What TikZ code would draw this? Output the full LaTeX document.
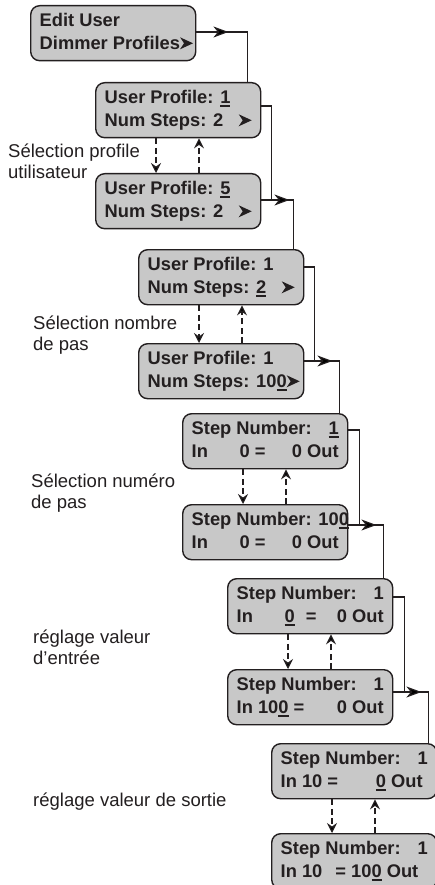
\documentclass[tikz,border=0pt]{standalone}
\usepackage{fontspec}
\setmainfont{Liberation Sans}
\usetikzlibrary{arrows.meta,calc,decorations.markings}
\definecolor{ink}{HTML}{231F20}
\definecolor{boxfill}{HTML}{C8C8C8}
\newsavebox\udbox
\newcommand\udig[1]{\sbox\udbox{#1}\rlap{\rule[-4pt]{\wd\udbox}{2.4pt}}\usebox\udbox}
\newcommand\tip{\tikz[baseline=0pt]\fill[ink,sharp corners] (0pt,0pt) -- (13pt,6pt) -- (0pt,12pt) -- (4pt,6pt) -- cycle;}
\newcommand\rows[2]{\vbox{\hbox to 147pt{\strut#1\hss}\hbox to 147pt{\strut#2\hss}}}
\newcommand\twolines[2]{\vbox{\hbox{\strut#1}\hbox{\strut#2}}}
\begin{document}
\begin{tikzpicture}[x=1pt,y=-1pt,
  box/.style={draw=ink,line width=1.4pt,fill=boxfill,rounded corners=9pt,
    minimum width=165pt,minimum height=55pt,inner xsep=9pt,inner ysep=0pt,
    anchor=north west,font=\bfseries\fontsize{18.3}{23}\selectfont,text=ink},
  lbl/.style={inner sep=0pt,anchor=north west,font=\fontsize{18.5}{21}\selectfont,text=ink},
  wire/.style={draw=ink,line width=1.2pt},
  conn/.style={wire,postaction={decorate},decoration={markings,
    mark=at position #1 with {\arrow{Stealth[length=15pt,width=11pt,inset=4.5pt]}}}},
  conn/.default=28pt,
  dashar/.style={draw=ink,line width=1.2pt,dash pattern=on 6pt off 3.5pt,
    -{Stealth[length=10pt,width=10pt,inset=3.5pt]}}]
\useasboundingbox (0,0) rectangle (435,885);
\fill[white] (0,0) rectangle (435,885);

\node[box] (B1) at (30,5) {\rows{Edit User}{Dimmer Profiles\tip}};
\node[box] (B2) at (95,82) {\rows{User Profile: \udig{1}}{Num Steps: 2\hfill\tip}};
\node[box] (B3) at (95,173) {\rows{User Profile: \udig{5}}{Num Steps: 2\hfill\tip}};
\node[box] (B4) at (138,249) {\rows{User Profile: 1}{Num Steps: \udig{2}\hfill\tip}};
\node[box] (B5) at (138,343) {\rows{User Profile: 1}{Num Steps: 10\udig{0}\hfill\tip}};
\node[box] (B6) at (182,413) {\rows{Step Number:\hfill\udig{1}}{\makebox[48pt][l]{In}0 =\hfill 0 Out}};
\node[box] (B7) at (182,504) {\rows{Step Number: 10\udig{0}}{\makebox[48pt][l]{In}0 =\hfill 0 Out}};
\node[box] (B8) at (227,578) {\rows{Step Number:\hfill 1}{\makebox[48pt][l]{In}\udig{0}\hspace{11pt}=\hfill 0 Out}};
\node[box] (B9) at (227,669) {\rows{Step Number:\hfill 1}{In 10\udig{0} =\hfill 0 Out}};
\node[box] (B10) at (271,743) {\rows{Step Number:\hfill 1}{In 10 =\hfill\udig{0} Out\hspace{5pt}}};
\node[box] (B11) at (271,833) {\rows{Step Number:\hfill 1}{In 10\hspace{13pt}= 10\udig{0} Out\hfill}};

\node[lbl] (L1) at (8,143) {\twolines{Sélection profile}{utilisateur}};
\node[lbl] (L2) at (33,315) {\twolines{Sélection nombre}{de pas}};
\node[lbl] (L3) at (31,473) {\twolines{Sélection numéro}{de pas}};
\node[lbl] (L4) at (33,629) {\twolines{réglage valeur}{d’entrée}};
\node[lbl,anchor=base west] (L5) at (33,806) {réglage valeur de sortie};

\draw[conn=32pt] ($(B1.north east)+(0,27)$) -| ($(B2.north east)+(-14,0)$);
\draw[wire] ($(B2.north east)+(0,24)$) -| ($(B3.north east)+(10,27)$);
\draw[conn] ($(B3.north east)+(0,27)$) -| ($(B4.north east)+(-11,0)$);
\draw[wire] ($(B4.north east)+(0,18)$) -| ($(B5.north east)+(10,18)$);
\draw[conn] ($(B5.north east)+(0,18)$) -| ($(B6.north east)+(-9,0)$);
\draw[wire] ($(B6.north east)+(0,17)$) -| ($(B7.north east)+(11,21)$);
\draw[conn] ($(B7.north east)+(0,21)$) -| ($(B8.north east)+(-10,0)$);
\draw[wire] ($(B8.north east)+(0,19)$) -| ($(B9.north east)+(11,23)$);
\draw[conn] ($(B9.north east)+(0,23)$) -| ($(B10.north east)+(-9,0)$);

\foreach \a/\b in {B2/B3,B4/B5,B6/B7,B8/B9,B10/B11} {
  \draw[dashar] ($(\a.south west)+(61,0)$) -- ($(\b.north west)+(61,0)$);
  \draw[dashar] ($(\b.north west)+(104,0)$) -- ($(\a.south west)+(104,0)$);
}
\end{tikzpicture}
\end{document}
